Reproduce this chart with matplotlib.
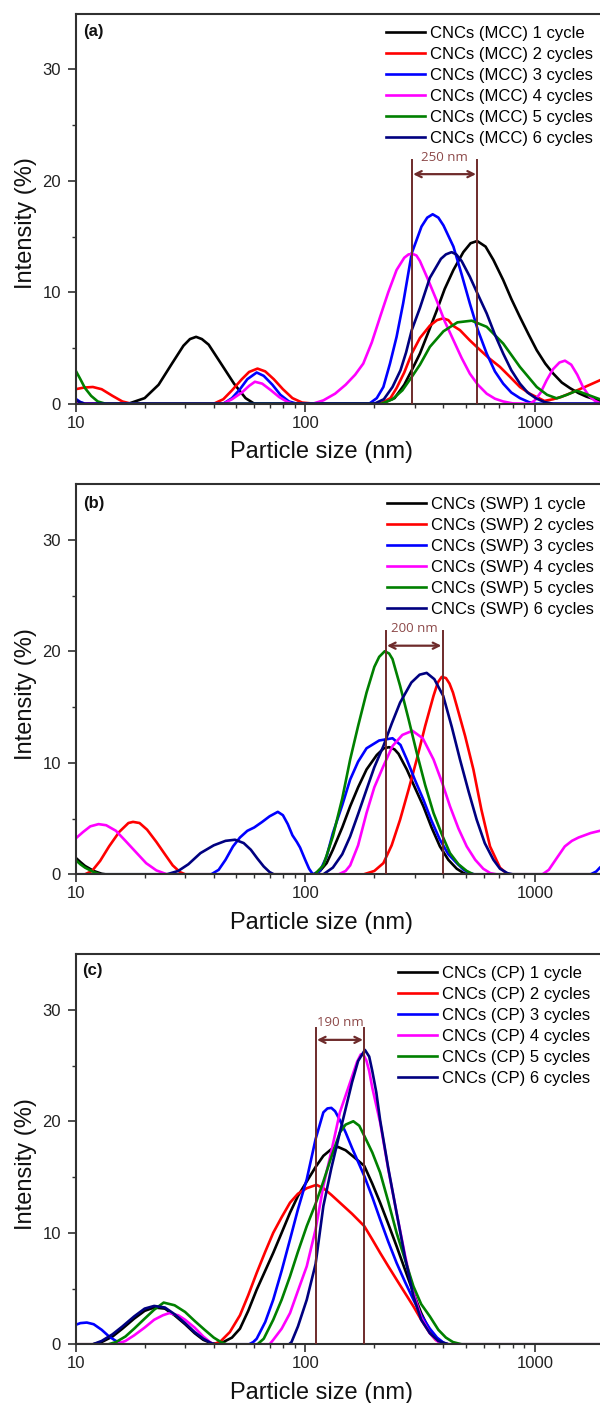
import matplotlib
matplotlib.use("Agg")
import matplotlib.pyplot as plt
from matplotlib.ticker import FixedLocator, LogLocator, NullFormatter, FixedFormatter

# ---------------- data ----------------
# Panel (a) MCC
MCC1_X = [10, 17, 20, 23, 26.3, 29.5, 31.5, 33.5, 35.5, 38, 42.7, 49, 55, 60, 215, 245, 270, 291, 316, 345, 373, 405, 442, 488, 525, 561, 610, 660, 728, 790, 860, 940, 1019, 1110, 1203, 1310, 1422, 1550, 1679, 1919, 2000]
MCC1_Y = [0, 0, 0.5, 1.7, 3.6, 5.2, 5.8, 6.0, 5.8, 5.3, 3.7, 1.8, 0.5, 0, 0, 0.5, 1.7, 3.0, 4.5, 6.5, 8.3, 10.3, 12.0, 13.6, 14.4, 14.6, 14.1, 12.9, 11.1, 9.4, 7.8, 6.2, 4.8, 3.6, 2.7, 1.9, 1.4, 0.95, 0.63, 0.25, 0.2]
MCC2_X = [10, 10.9, 11.9, 13, 14.5, 16, 17.5, 40, 44, 48, 53, 57, 62, 67, 73, 80, 88, 97, 110, 212, 235, 250, 270, 291, 316, 349, 375, 399, 420, 440, 472, 520, 567, 630, 705, 780, 861, 950, 1052, 1100, 1200, 1300, 1422, 1650, 1919, 2000]
MCC2_Y = [1.3, 1.45, 1.5, 1.3, 0.7, 0.2, 0, 0, 0.4, 1.2, 2.2, 2.85, 3.15, 2.9, 2.2, 1.3, 0.5, 0.1, 0, 0, 0.5, 1.4, 2.8, 4.5, 5.9, 7.0, 7.5, 7.66, 7.5, 7.0, 6.6, 5.7, 4.97, 4.1, 3.3, 2.4, 1.5, 0.9, 0.45, 0.25, 0.4, 0.6, 0.93, 1.5, 2.1, 2.3]
MCC3_X = [10, 10.5, 11, 44, 48, 52, 56, 61.5, 66, 72, 78, 85, 92, 190, 205, 219, 234, 250, 267, 291, 321, 340, 359, 380, 400, 442, 480, 521, 565, 617, 670, 728, 790, 861, 940, 1000, 2000]
MCC3_Y = [0.45, 0.15, 0, 0, 0.5, 1.3, 2.2, 2.8, 2.5, 1.7, 0.8, 0.2, 0, 0, 0.5, 1.5, 3.6, 6.0, 9.0, 13.5, 15.9, 16.7, 17.0, 16.7, 16.0, 14.1, 11.6, 9.0, 6.6, 4.5, 2.9, 1.8, 1.0, 0.5, 0.15, 0, 0]
MCC4_X = [10, 10.5, 44, 48, 53, 57, 60.4, 65, 71, 77, 83, 88, 108, 120, 135, 150, 165, 179, 195, 212, 230, 250, 270, 282, 294, 305, 316, 340, 373, 405, 442, 480, 521, 565, 617, 670, 728, 800, 953, 1000, 1060, 1125, 1200, 1280, 1352, 1440, 1530, 1620, 1720, 1828, 1919, 2000]
MCC4_Y = [0.15, 0, 0, 0.4, 1.0, 1.6, 1.97, 1.8, 1.2, 0.6, 0.2, 0, 0, 0.3, 0.9, 1.7, 2.6, 3.6, 5.5, 7.8, 10.0, 12.0, 13.1, 13.4, 13.44, 13.3, 12.8, 11.3, 9.3, 7.4, 5.7, 4.1, 2.7, 1.7, 0.9, 0.45, 0.2, 0.03, 0, 0.3, 1.0, 2.1, 3.1, 3.7, 3.86, 3.5, 2.6, 1.5, 0.7, 0.25, 0.05, 0]
MCC5_X = [10, 10.5, 11, 11.7, 12.5, 13.5, 215, 240, 265, 291, 316, 349, 400, 460, 531, 617, 728, 861, 1019, 1130, 1245, 1380, 1521, 1700, 1919, 2000]
MCC5_Y = [3.0, 2.2, 1.4, 0.7, 0.2, 0, 0, 0.4, 1.2, 2.4, 3.5, 5.1, 6.5, 7.3, 7.45, 6.9, 5.4, 3.3, 1.5, 0.8, 0.48, 0.8, 1.17, 0.8, 0.4, 0.3]
MCC6_X = [10, 10.5, 11, 200, 220, 240, 260, 275, 291, 316, 349, 390, 410, 434, 455, 480, 521, 565, 617, 670, 728, 790, 861, 930, 1008, 1100, 1200, 2000]
MCC6_Y = [0.35, 0.1, 0, 0, 0.4, 1.5, 3.0, 4.6, 6.6, 8.6, 11.3, 13.0, 13.4, 13.6, 13.4, 12.8, 11.4, 9.8, 8.1, 6.2, 4.5, 3.0, 1.8, 1.0, 0.5, 0.15, 0, 0]

# Panel (b) SWP
SWP1_X = [10, 10.5, 11, 12, 13, 13.5, 110, 116, 124, 132, 145, 157, 170, 185, 205, 220, 232, 245, 255, 277, 300, 327, 355, 386, 420, 457, 490, 510, 2000]
SWP1_Y = [1.5, 1.1, 0.75, 0.3, 0.05, 0, 0, 0.3, 1.0, 2.2, 4.2, 6.1, 7.8, 9.4, 10.7, 11.3, 11.4, 11.2, 10.8, 9.4, 7.8, 6.1, 4.2, 2.5, 1.3, 0.5, 0.1, 0, 0]
SWP2_X = [10, 11, 11.8, 12.8, 14, 15.5, 17, 17.8, 19, 20.5, 22.5, 24.5, 26.5, 28.5, 30, 180, 200, 219, 238, 259, 282, 306, 333, 362, 378, 393, 410, 425, 440, 457, 497, 540, 585, 638, 705, 760, 2000]
SWP2_Y = [0, 0, 0.3, 1.2, 2.5, 3.8, 4.6, 4.7, 4.6, 4.0, 2.9, 1.8, 0.8, 0.2, 0, 0, 0.3, 1.0, 2.6, 4.9, 7.6, 10.3, 13.3, 16.0, 17.2, 17.7, 17.6, 17.1, 16.3, 15.1, 12.4, 9.4, 5.8, 2.5, 0.6, 0, 0]
SWP3_X = [10, 39, 42, 45, 48.5, 52, 56, 60, 65, 70, 76, 80, 84, 88, 92, 95, 100, 104, 108, 116, 124, 132, 145, 157, 170, 185, 210, 240, 260, 277, 300, 327, 355, 386, 420, 457, 490, 520, 545, 1750, 1850, 1919, 2000]
SWP3_Y = [0, 0, 0.4, 1.3, 2.5, 3.3, 3.9, 4.2, 4.7, 5.2, 5.6, 5.3, 4.5, 3.5, 2.9, 2.4, 1.3, 0.5, 0, 0.3, 1.6, 3.7, 6.2, 8.5, 10.1, 11.3, 12.0, 12.2, 11.6, 10.3, 8.5, 6.7, 4.8, 3.1, 1.8, 1.0, 0.4, 0.1, 0, 0, 0.25, 0.6, 0.9]
SWP4_X = [10, 10.8, 11.6, 12.6, 13.6, 15, 16.5, 18.3, 20.3, 22.5, 25, 140, 150, 157, 170, 185, 200, 219, 240, 265, 293, 325, 362, 395, 427, 465, 505, 550, 596, 640, 680, 1080, 1150, 1250, 1350, 1450, 1550, 1750, 1919, 2000]
SWP4_Y = [3.2, 3.8, 4.3, 4.5, 4.4, 3.9, 3.0, 2.0, 1.0, 0.35, 0, 0, 0.3, 0.8, 2.6, 5.5, 7.8, 9.7, 11.5, 12.5, 12.87, 12.2, 10.3, 8.2, 6.1, 4.1, 2.5, 1.3, 0.5, 0.1, 0, 0, 0.4, 1.5, 2.5, 3.0, 3.3, 3.7, 3.9, 4.0]
SWP5_X = [10, 10.5, 11, 12, 12.8, 110, 120, 132, 145, 157, 170, 185, 200, 210, 222, 232, 240, 259, 282, 306, 333, 362, 395, 427, 465, 505, 540, 2000]
SWP5_Y = [1.3, 0.9, 0.6, 0.2, 0, 0, 0.8, 3.4, 6.8, 10.3, 13.3, 16.3, 18.6, 19.5, 20.0, 19.8, 19.3, 16.9, 13.9, 10.9, 8.0, 5.5, 3.5, 1.9, 0.9, 0.3, 0, 0]
SWP6_X = [10, 25, 28, 31, 35, 40, 45, 49.5, 54, 58, 62, 66, 70, 73, 120, 132, 145, 157, 170, 185, 200, 219, 238, 259, 290, 315, 338, 365, 399, 435, 472, 515, 558, 605, 660, 705, 760, 800, 2000]
SWP6_Y = [0, 0, 0.3, 0.9, 1.9, 2.6, 3.0, 3.1, 2.8, 2.2, 1.4, 0.7, 0.2, 0, 0, 0.6, 1.8, 3.4, 5.4, 7.6, 9.6, 11.5, 13.5, 15.4, 17.2, 17.9, 18.06, 17.5, 16.0, 13.2, 10.3, 7.4, 4.9, 2.8, 1.3, 0.5, 0.1, 0, 0]

# Panel (c) CP
CP1_X = [10, 11.9, 13, 14.5, 16, 18, 20, 22, 24.5, 27, 30, 33, 36, 39, 42, 44, 48, 52, 56.5, 61.5, 67, 72.6, 79, 85.9, 93, 101.6, 111, 120, 130, 139, 150, 165, 180.8, 196, 212, 230, 250, 272, 296, 320, 349, 370, 391, 420, 2000]
CP1_Y = [0, 0, 0.2, 0.7, 1.4, 2.3, 3.0, 3.3, 3.2, 2.6, 1.8, 1.0, 0.4, 0.1, 0, 0.2, 0.6, 1.4, 3.0, 4.9, 6.6, 8.2, 10.0, 11.8, 13.3, 14.6, 15.9, 16.9, 17.5, 17.7, 17.4, 16.7, 16.0, 14.4, 12.7, 10.8, 8.8, 6.7, 4.6, 2.8, 1.2, 0.5, 0.1, 0, 0]
CP2_X = [10, 40, 43, 47, 52, 56.5, 61.5, 67, 72.6, 79, 85.9, 93, 101.6, 112, 120, 130, 141.6, 160, 180.8, 196, 212, 230, 250, 272, 296, 320, 349, 370, 391, 410, 2000]
CP2_Y = [0, 0, 0.3, 1.1, 2.6, 4.4, 6.4, 8.3, 10.0, 11.4, 12.7, 13.5, 14.0, 14.3, 14.0, 13.4, 12.7, 11.7, 10.6, 9.4, 8.2, 7.0, 5.8, 4.6, 3.4, 2.2, 1.0, 0.4, 0.1, 0, 0]
CP3_X = [10, 10.5, 11.2, 12, 13, 14, 15, 16.2, 57, 59.4, 61.5, 67, 72.6, 79, 85.9, 93, 101.6, 111, 120, 125, 130, 135, 141.6, 150, 160, 180.8, 196, 212, 230, 250, 272, 296, 320, 349, 375, 400, 420, 2000]
CP3_Y = [1.74, 1.9, 1.95, 1.8, 1.3, 0.7, 0.3, 0, 0, 0.2, 0.5, 2.0, 4.0, 6.6, 9.4, 12.1, 14.8, 18.4, 20.8, 21.15, 21.2, 20.9, 20.1, 19.0, 17.6, 15.1, 13.2, 11.2, 9.2, 7.3, 5.6, 4.0, 2.6, 1.4, 0.6, 0.15, 0, 0]
CP4_X = [10, 15, 16.5, 18, 20, 22, 24, 25.6, 28, 30, 33, 36, 38.5, 40, 70, 72.6, 79, 85.9, 93, 101.6, 111, 120, 130, 141.6, 160, 168, 174.6, 180, 185, 190, 196, 212, 230, 250, 272, 296, 320, 349, 375, 400, 420, 2000]
CP4_Y = [0, 0, 0.3, 0.8, 1.5, 2.2, 2.6, 2.8, 2.6, 2.2, 1.5, 0.7, 0.2, 0, 0, 0.4, 1.4, 2.8, 4.8, 7.0, 10.3, 14.2, 17.3, 20.8, 24.0, 25.3, 26.0, 25.9, 25.4, 24.5, 23.0, 19.9, 15.7, 11.8, 8.0, 4.6, 2.4, 1.0, 0.3, 0.05, 0, 0]
CP5_X = [10, 13.9, 15, 16.5, 18, 20, 22, 24.2, 27, 30, 33, 36.5, 40, 43, 45.5, 62, 66, 72.6, 79, 85.9, 93, 101.6, 111, 120, 130, 141.6, 150, 162, 172, 180.8, 196, 212, 230, 250, 272, 296, 320, 349, 380, 410, 440, 480, 2000]
CP5_Y = [0, 0, 0.2, 0.7, 1.4, 2.3, 3.1, 3.74, 3.5, 2.9, 2.1, 1.3, 0.6, 0.2, 0, 0, 0.5, 2.2, 4.0, 6.1, 8.3, 10.6, 12.6, 14.6, 16.8, 19.0, 19.7, 20.0, 19.6, 18.7, 17.2, 15.4, 12.8, 10.0, 7.6, 5.2, 3.6, 2.5, 1.3, 0.6, 0.2, 0, 0]
CP6_X = [10, 11.9, 13, 14.5, 16, 18, 20, 22, 24.5, 27, 30, 33, 36, 39, 40.6, 85, 87.2, 93, 101.6, 111, 120, 130, 141.6, 160, 170, 182, 190, 196, 204, 212, 230, 250, 272, 296, 320, 349, 380, 420, 2000]
CP6_Y = [0, 0, 0.3, 0.9, 1.6, 2.5, 3.2, 3.44, 3.3, 2.7, 1.9, 1.1, 0.5, 0.1, 0, 0, 0.2, 1.6, 4.0, 7.2, 12.4, 15.8, 19.0, 23.5, 25.4, 26.4, 25.8, 24.5, 22.6, 20.1, 15.8, 11.8, 7.8, 4.3, 2.2, 1.0, 0.3, 0, 0]

CYCLE_LABELS = ["1 cycle", "2 cycles", "3 cycles", "4 cycles", "5 cycles", "6 cycles"]
SOURCES = ["MCC", "SWP", "CP"]
PANEL_TAGS = ["(a)", "(b)", "(c)"]
GAP_LABELS = ["250 nm", "200 nm", "190 nm"]
GAP_BOUNDS = [(291, 562), (224, 397), (111, 181)]
GAP_TOP = [21.9, 21.8, 28.4]
GAP_ARROW = [20.6, 20.5, 27.3]
GAP_TEXT_Y = [22.1, 22.0, 28.9]
Y_TICKS = [0, 10, 20, 30]
X_TICKS = [10, 100, 1000]
X_TICK_LABELS = ["10", "100", "1000"]

SERIES = [
    [(MCC1_X, MCC1_Y), (MCC2_X, MCC2_Y), (MCC3_X, MCC3_Y), (MCC4_X, MCC4_Y), (MCC5_X, MCC5_Y), (MCC6_X, MCC6_Y)],
    [(SWP1_X, SWP1_Y), (SWP2_X, SWP2_Y), (SWP3_X, SWP3_Y), (SWP4_X, SWP4_Y), (SWP5_X, SWP5_Y), (SWP6_X, SWP6_Y)],
    [(CP1_X, CP1_Y), (CP2_X, CP2_Y), (CP3_X, CP3_Y), (CP4_X, CP4_Y), (CP5_X, CP5_Y), (CP6_X, CP6_Y)],
]

# ---------------- styling / layout ----------------
COLORS = ["#000000", "#ff0000", "#0000ff", "#ff00ff", "#008000", "#000080"]
BROWN = "#6e2b2b"
BROWN_TXT = "#8c4848"
W, H = 600, 1403
LEFT_PX, RIGHT_PX = 75.5, 604
PANELS_PX = [(13.7, 403.7), (484, 874.3), (954, 1344.3)]
LEGEND_PX = [(386, 33.3), (386.5, 504.3), (398, 973.3)]
TAG_PX = [(83, 31.7), (83, 503.3), (82, 970)]
XLABEL_OFFSET_PX = 48.5

plt.rcParams["font.family"] = ["Liberation Sans", "DejaVu Sans"]
fig = plt.figure(figsize=(W / 100, H / 100), dpi=100)

for i, (top, bot) in enumerate(PANELS_PX):
    ax = fig.add_axes([LEFT_PX / W, 1 - bot / H, (RIGHT_PX - LEFT_PX) / W, (bot - top) / H])
    for j, (xs, ys) in enumerate(SERIES[i]):
        ax.plot(xs, ys, color=COLORS[j], lw=1.9, solid_joinstyle="round",
                label=f"CNCs ({SOURCES[i]}) {CYCLE_LABELS[j]}")
    ax.set_xscale("log")
    ax.set_xlim(10, 2000)
    ax.set_ylim(0, 35)
    ax.xaxis.set_major_locator(FixedLocator(X_TICKS))
    ax.xaxis.set_major_formatter(FixedFormatter(X_TICK_LABELS))
    ax.xaxis.set_minor_locator(LogLocator(base=10, subs=range(2, 10)))
    ax.xaxis.set_minor_formatter(NullFormatter())
    ax.yaxis.set_major_locator(FixedLocator(Y_TICKS))
    ax.yaxis.set_minor_locator(FixedLocator([5, 15, 25]))
    for s in ["left", "bottom", "top"]:
        ax.spines[s].set_linewidth(1.5)
        ax.spines[s].set_color("#303030")
    ax.spines["right"].set_visible(False)
    ax.tick_params(which="major", direction="out", length=6, width=1.2, color="#303030",
                   labelsize=12, labelcolor="#222222")
    ax.tick_params(which="minor", direction="out", length=3, width=1.0, color="#303030")
    ax.tick_params(axis="y", which="major", pad=4.5)
    ax.tick_params(axis="x", which="major", pad=2.5)
    ax.set_xlabel("Particle size (nm)", fontsize=17, color="#111111")
    ax.set_ylabel("Intensity (%)", fontsize=17, color="#111111")
    ax.xaxis.set_label_coords((322 - LEFT_PX) / (RIGHT_PX - LEFT_PX), -XLABEL_OFFSET_PX / (bot - top))
    ax.yaxis.set_label_coords((26 - LEFT_PX) / (RIGHT_PX - LEFT_PX), 0.462)
    ax.xaxis.label.set_va("center")
    ax.yaxis.label.set_va("center")

    # annotation (vertical lines + double arrow + text)
    lo, hi = GAP_BOUNDS[i]
    for xv in (lo, hi):
        ax.plot([xv, xv], [0, GAP_TOP[i]], color=BROWN, lw=1.4, zorder=5)
    ax.annotate("", xy=(lo, GAP_ARROW[i]), xytext=(hi, GAP_ARROW[i]),
                arrowprops=dict(arrowstyle="<->", color=BROWN, lw=1.6,
                                shrinkA=1, shrinkB=1, mutation_scale=11), zorder=5)
    ax.text((lo * hi) ** 0.5, GAP_TEXT_Y[i], GAP_LABELS[i], ha="center", va="center",
            fontsize=9.5, color=BROWN_TXT, family=["Open Sans", "DejaVu Sans"], zorder=6)

    # legend
    lx, ly = LEGEND_PX[i]
    ax.legend(loc="upper left", bbox_to_anchor=(lx / W, 1 - (ly - 7) / H),
              bbox_transform=fig.transFigure, frameon=False, fontsize=12,
              handlelength=2.35, handletextpad=0.3, labelspacing=0.36,
              borderpad=0, borderaxespad=0)

    tx, ty = TAG_PX[i]
    fig.text(tx / W, 1 - ty / H, PANEL_TAGS[i], fontsize=12, fontweight="bold",
             ha="left", va="center", color="#111111")

fig.savefig("out.png", dpi=100)
